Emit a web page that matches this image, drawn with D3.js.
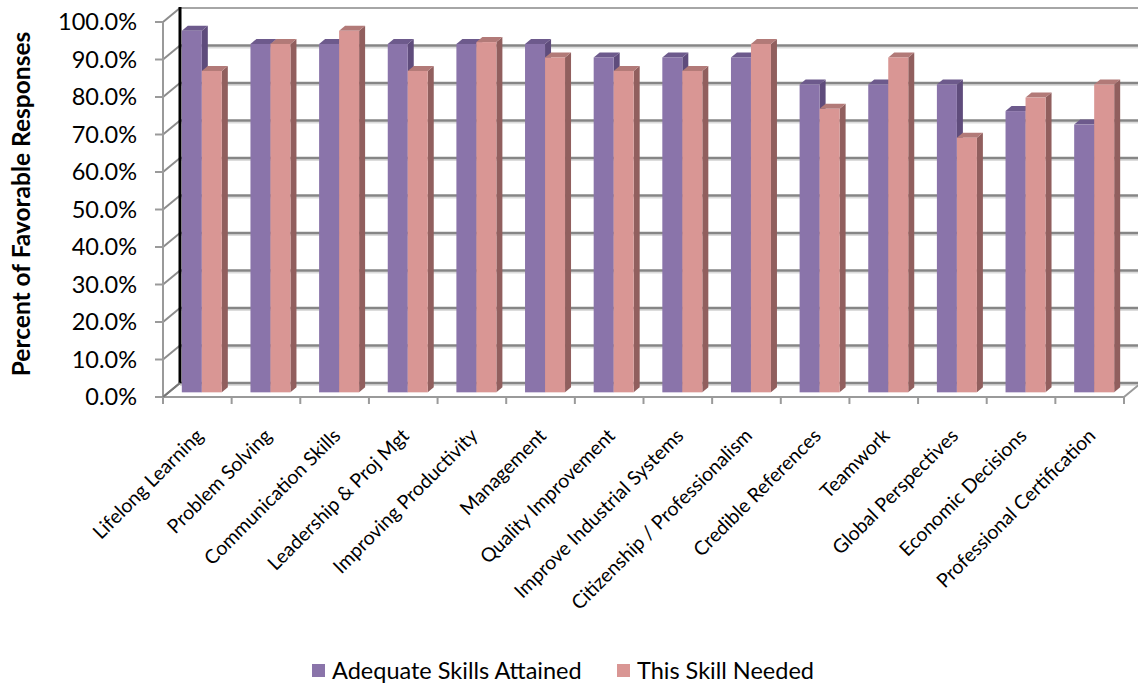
<!DOCTYPE html>
<html>
<head>
<meta charset="utf-8">
<script src="https://cdn.jsdelivr.net/npm/d3@7"></script>
<style>
  body { margin: 0; background: #fff; }
  text { font-family: Lato, "Open Sans", sans-serif; fill: #000; }
</style>
</head>
<body>
<script>
// chart data
var categories = ["Lifelong Learning", "Problem Solving", "Communication Skills",
    "Leadership & Proj Mgt", "Improving Productivity", "Management",
    "Quality Improvement", "Improve Industrial Systems", "Citizenship / Professionalism",
    "Credible References", "Teamwork", "Global Perspectives",
    "Economic Decisions", "Professional Certification"];
var adequate = [96.4, 92.9, 92.9, 92.9, 92.9, 92.9, 89.3, 89.3, 89.3, 82.1, 82.1, 82.1, 75.0, 71.4];
var needed   = [85.7, 92.9, 96.4, 85.7, 93.4, 89.3, 85.7, 85.7, 92.9, 75.6, 89.3, 67.9, 78.6, 82.1];
var seriesNames = ["Adequate Skills Attained", "This Skill Needed"];
var yTicks = [0, 10, 20, 30, 40, 50, 60, 70, 80, 90, 100];

var W = 1138, H = 686;
var DX = 17, DY = 14;   // depth offset, front plane -> back wall

var svg = d3.select("body").append("svg")
    .attr("width", W)
    .attr("height", H);

var x = d3.scaleBand()
    .domain(categories)
    .range([163, 1124])
    .paddingInner(0)
    .paddingOuter(0);

var y = d3.scaleLinear()
    .domain([0, 100])
    .range([397, 22]);

// project a front-plane point to depth d (0 = front, 1 = back)
function px(xv, d) { return xv + DX * d; }
function py(yv, d) { return yv - DY * d; }

var grid = svg.append("g");

// back wall gridlines
yTicks.forEach(function(t) {
    var yb = py(y(t), 1);
    if (t === 100) {
        grid.append("line")
            .attr("x1", px(163, 1)).attr("x2", W + 10)
            .attr("y1", yb).attr("y2", yb)
            .attr("stroke", "#a6a6a6").attr("stroke-width", 2);
    } else {
        grid.append("line")
            .attr("x1", px(163, 1)).attr("x2", W + 10)
            .attr("y1", yb + 2).attr("y2", yb + 2)
            .attr("stroke", "#dcdcdc").attr("stroke-width", 2);
        grid.append("line")
            .attr("x1", px(163, 1)).attr("x2", W + 10)
            .attr("y1", yb).attr("y2", yb)
            .attr("stroke", "#868686").attr("stroke-width", 2.5);
    }
    // side wall diagonals
    grid.append("line")
        .attr("x1", 163).attr("y1", y(t))
        .attr("x2", px(163, 1)).attr("y2", yb)
        .attr("stroke", "#8c8c8c").attr("stroke-width", 2);
});

// side wall front edge + y ticks
grid.append("line")
    .attr("x1", 163).attr("x2", 163)
    .attr("y1", y(100)).attr("y2", y(0))
    .attr("stroke", "#9a9a9a").attr("stroke-width", 2);
yTicks.forEach(function(t) {
    grid.append("line")
        .attr("x1", 155).attr("x2", 163)
        .attr("y1", y(t)).attr("y2", y(t))
        .attr("stroke", "#9a9a9a").attr("stroke-width", 2);
});

// black back-wall left edge
grid.append("line")
    .attr("x1", px(163, 1)).attr("x2", px(163, 1))
    .attr("y1", py(y(100), 1) - 1).attr("y2", py(y(0), 1))
    .attr("stroke", "#000").attr("stroke-width", 3);

// floor
grid.append("line")
    .attr("x1", 163).attr("x2", 1124)
    .attr("y1", y(0)).attr("y2", y(0))
    .attr("stroke", "#9a9a9a").attr("stroke-width", 2);
grid.append("line")
    .attr("x1", 1124).attr("y1", y(0))
    .attr("x2", px(1124, 1)).attr("y2", py(y(0), 1))
    .attr("stroke", "#9a9a9a").attr("stroke-width", 2);
grid.append("line")
    .attr("x1", 163).attr("y1", y(0))
    .attr("x2", px(163, 1)).attr("y2", py(y(0), 1))
    .attr("stroke", "#777").attr("stroke-width", 2);
d3.range(categories.length + 1).forEach(function(i) {
    var xt = 163 + x.bandwidth() * i;
    grid.append("line")
        .attr("x1", xt).attr("x2", xt)
        .attr("y1", y(0)).attr("y2", y(0) + 7)
        .attr("stroke", "#9a9a9a").attr("stroke-width", 2);
});

// bars
var colors = [
    {front: "#8a74aa", top: "#6d5a8c", side: "#5f4c7c"},
    {front: "#d99694", top: "#b27a78", side: "#915f5e"}
];
var barW = 20, barD = 6, barDY = 5, depth0 = 1 / 3;
var bars = svg.append("g");

categories.forEach(function(c, i) {
    var vals = [adequate[i], needed[i]];
    var x0 = x(c) + x.bandwidth() / 2 - 15.5;
    vals.forEach(function(v, s) {
        var xl = x0 + s * barW;
        var xr = xl + barW;
        var yb = py(y(0), depth0);
        var yt = py(y(v), depth0);
        var col = colors[s];
        // side face
        bars.append("path")
            .attr("d", "M" + xr + "," + yt + "L" + (xr + barD) + "," + (yt - barDY) +
                "L" + (xr + barD) + "," + (yb - barDY) + "L" + xr + "," + yb + "Z")
            .attr("fill", col.side);
        // top face
        bars.append("path")
            .attr("d", "M" + xl + "," + yt + "L" + (xl + barD) + "," + (yt - barDY) +
                "L" + (xr + barD) + "," + (yt - barDY) + "L" + xr + "," + yt + "Z")
            .attr("fill", col.top);
        // front face
        bars.append("rect")
            .attr("x", xl).attr("y", yt)
            .attr("width", barW).attr("height", yb - yt)
            .attr("fill", col.front);
    });
});

// y axis labels
svg.append("g").selectAll("text")
    .data(yTicks)
    .join("text")
    .attr("x", 137)
    .attr("y", function(d) { return y(d); })
    .attr("dy", "0.36em")
    .style("text-anchor", "end")
    .style("font-size", "23.5px")
    .text(function(d) { return d.toFixed(1) + "%"; });

// y axis title
svg.append("text")
    .attr("transform", "translate(30,204) rotate(-90)")
    .style("text-anchor", "middle")
    .style("font-size", "24.5px")
    .style("font-weight", "bold")
    .text("Percent of Favorable Responses");

// category labels
svg.append("g").selectAll("text")
    .data(categories)
    .join("text")
    .attr("transform", function(d) {
        return "translate(" + (x(d) + x.bandwidth() / 2 + 7) + ",437) rotate(-45)";
    })
    .style("text-anchor", "end")
    .style("font-size", "19.5px")
    .text(function(d) { return d; });

// legend
var legend = svg.append("g");
var legendX = [312, 617];
seriesNames.forEach(function(n, s) {
    legend.append("rect")
        .attr("x", legendX[s]).attr("y", 664)
        .attr("width", 13).attr("height", 13)
        .attr("fill", colors[s].front);
    legend.append("text")
        .attr("x", legendX[s] + 20).attr("y", 679)
        .style("font-size", "23.5px")
        .text(n);
});
</script>
</body>
</html>
